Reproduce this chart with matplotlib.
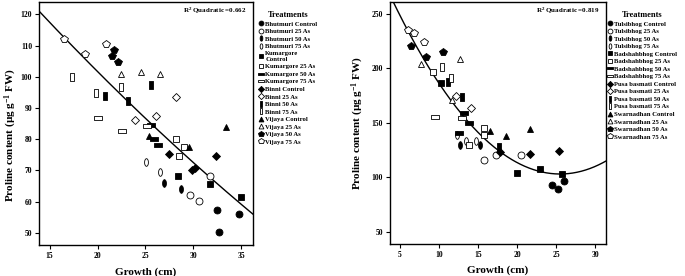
import numpy as np
import matplotlib.pyplot as plt
from matplotlib.path import Path
from matplotlib.transforms import Affine2D

plt.rcParams['font.family'] = ['Liberation Serif', 'DejaVu Serif']
plt.rcParams['font.weight'] = 'bold'
plt.rcParams['mathtext.default'] = 'regular'

# ---- left panel: Bhutmuri / Kumargore / Binni / Vijaya
left_labels = ["Bhutmuri Control", "Bhutmuri 25 As", "Bhutmuri 50 As", "Bhutmuri 75 As",
               "Kumargore\nControl", "Kumargore 25 As", "Kumargore 50 As", "Kumargore 75 As",
               "Binni Control", "Binni 25 As", "Binni 50 As", "Binni 75 As",
               "Vijaya Control", "Vijaya 25 As", "Vijaya 50 As", "Vijaya 75 As"]
left_x = [[32.5, 34.8, 32.7], [29.6, 30.6, 31.75], [26.9, 28.7], [25.05, 26.5],
          [28.4, 31.7, 35.0], [28.2, 28.5, 29.0], [25.6, 25.9, 26.3], [20.0, 22.6, 25.2],
          [27.5, 29.9, 30.2, 32.4], [23.9, 26.1, 28.2], [20.8, 23.2, 25.6], [17.3, 19.8, 22.4],
          [25.4, 29.5, 33.4], [22.5, 24.5, 26.5], [21.7, 21.5, 22.1], [16.5, 18.7, 20.9]]
left_y = [[57.4, 56.2, 50.2], [62.2, 60.2, 68.1], [66.1, 64.1], [72.8, 69.4],
          [68.1, 65.6, 61.4], [80.1, 74.7, 77.5], [84.6, 80.1, 78.1], [86.8, 82.7, 84.1],
          [75.4, 70.2, 70.7, 74.7], [86.1, 87.4, 93.4], [93.9, 92.1, 97.4], [100.0, 94.7, 96.7],
          [81.0, 77.6, 84.0], [100.8, 101.6, 100.8], [108.7, 106.8, 104.7], [112.0, 107.3, 110.6]]
left_r2 = "0.662"
# quadratic fit as drawn: y = a*x^2 + b*x + c
left_fit = [0.016, -3.717, 169.64]

# ---- right panel: Tulsibhog / Badshahbhog / Pusa basmati / Swarnadhan
right_labels = ["Tulsibhog Control", "Tulsibhog 25 As", "Tulsibhog 50 As", "Tulsibhog 75 As",
                "Badshahbhog Control", "Badshahbhog 25 As", "Badshahbhog 50 As", "Badshahbhog 75 As",
                "Pusa basmati Control", "Pusa basmati 25 As", "Pusa basmati 50 As", "Pusa basmati 75 As",
                "Swarnadhan Control", "Swarnadhan 25 As", "Swarnadhan 50 As", "Swarnadhan 75 As"]
right_x = [[24.4, 25.2, 26.0], [15.7, 17.3, 20.5], [12.7, 15.2], [13.5, 14.7, 12.3],
           [10.3, 20.0, 22.9, 25.8], [9.2, 15.7, 15.8, 13.8], [13.2, 13.9, 12.5], [9.5, 12.9],
           [17.8, 21.6, 25.3], [12.2, 14.1], [11.2, 13.0, 17.7], [10.4, 11.5],
           [16.5, 18.6, 21.6], [7.7, 12.7, 11.7], [6.4, 8.4, 10.5], [6.07, 6.8, 8.1]]
right_y = [[92.8, 88.9, 96.8], [115.8, 120.4, 120.4], [129.6, 129.6], [133.6, 133.6, 138.8],
           [186.3, 103.6, 107.5, 102.7], [197.0, 145.6, 138.8, 129.6], [158.7, 150.1, 141.0], [155.1, 154.1],
           [123.4, 121.3, 124.4], [174.6, 163.3], [187.8, 174.0, 128.0], [201.6, 190.9],
           [142.5, 137.8, 144.6], [203.8, 208.6, 171.0], [220.9, 210.8, 214.8], [235.3, 232.3, 224.5]]
right_r2 = "0.819"
right_fit = [0.3466, -17.677, 328.38]

# marker shapes
sq = Path.unit_rectangle().transformed(Affine2D().translate(-0.5, -0.5))
ellipse = Path.unit_circle().transformed(Affine2D().scale(0.5, 1.0))
hrect = sq.transformed(Affine2D().scale(1.0, 0.45))
vrect = sq.transformed(Affine2D().scale(0.45, 1.0))
shapes = ['o', 'o', ellipse, ellipse, 's', 's', hrect, hrect,
          'D', 'D', vrect, vrect, '^', '^', 'p', 'p']
sizes = [5, 5, 5.5, 5.5, 5, 5, 6, 6, 4.5, 4.5, 6, 6, 5, 5, 5.5, 5.5]

fig = plt.figure(figsize=(6.85, 2.76), dpi=100)
ax1 = fig.add_axes([0.057, 0.111, 0.312, 0.882])
ax2 = fig.add_axes([0.569, 0.117, 0.316, 0.876])


def draw(ax, labels, xs, ys, r2, fit, xlim, ylim, xticks, yticks, leg_x, ylab_xy):
    for i, lab in enumerate(labels):
        face = 'black' if i % 2 == 0 else 'white'
        ax.plot(xs[i], ys[i], linestyle='none', marker=shapes[i], markersize=sizes[i],
                markerfacecolor=face, markeredgecolor='black', markeredgewidth=0.6,
                label=lab, zorder=3)
    gx = np.linspace(xlim[0], xlim[1], 200)
    ax.plot(gx, np.polyval(fit, gx), color='black', lw=1.0, zorder=2)
    ax.set_xlim(xlim)
    ax.set_ylim(ylim)
    ax.set_xticks(xticks)
    ax.set_yticks(yticks)
    ax.tick_params(labelsize=5.5, length=3, width=0.8, pad=2)
    for s in ax.spines.values():
        s.set_linewidth(1.0)
    ax.set_xlabel("Growth (cm)", fontsize=8, fontweight='bold', labelpad=5)
    ax.set_ylabel("Proline content (µg g$^{-1}$ FW)", fontsize=8, fontweight='bold')
    ax.yaxis.set_label_coords(*ylab_xy)
    ax.text(0.97, 0.985, "R$^2$ Quadratic =" + r2, transform=ax.transAxes,
            ha='right', va='top', fontsize=5, fontweight='bold')
    ax.legend(loc='upper left', bbox_to_anchor=(leg_x, 0.96), bbox_transform=fig.transFigure,
              frameon=False, fontsize=4.8, title='Treatments', title_fontsize=6,
              handlelength=0.8, handletextpad=0.3, labelspacing=0.28,
              borderaxespad=0, borderpad=0, markerscale=0.7)


draw(ax1, left_labels, left_x, left_y, left_r2, left_fit, (13.9, 36.2), (46, 124),
     [15, 20, 25, 30, 35], [50, 60, 70, 80, 90, 100, 110, 120], 258 / 685, (-0.095, 0.455))
draw(ax2, right_labels, right_x, right_y, right_r2, right_fit, (3.7, 31.4), (39, 261),
     [5, 10, 15, 20, 25, 30], [50, 100, 150, 200, 250], 607 / 685, (-0.108, 0.5))

fig.savefig("out.png", dpi=100)
